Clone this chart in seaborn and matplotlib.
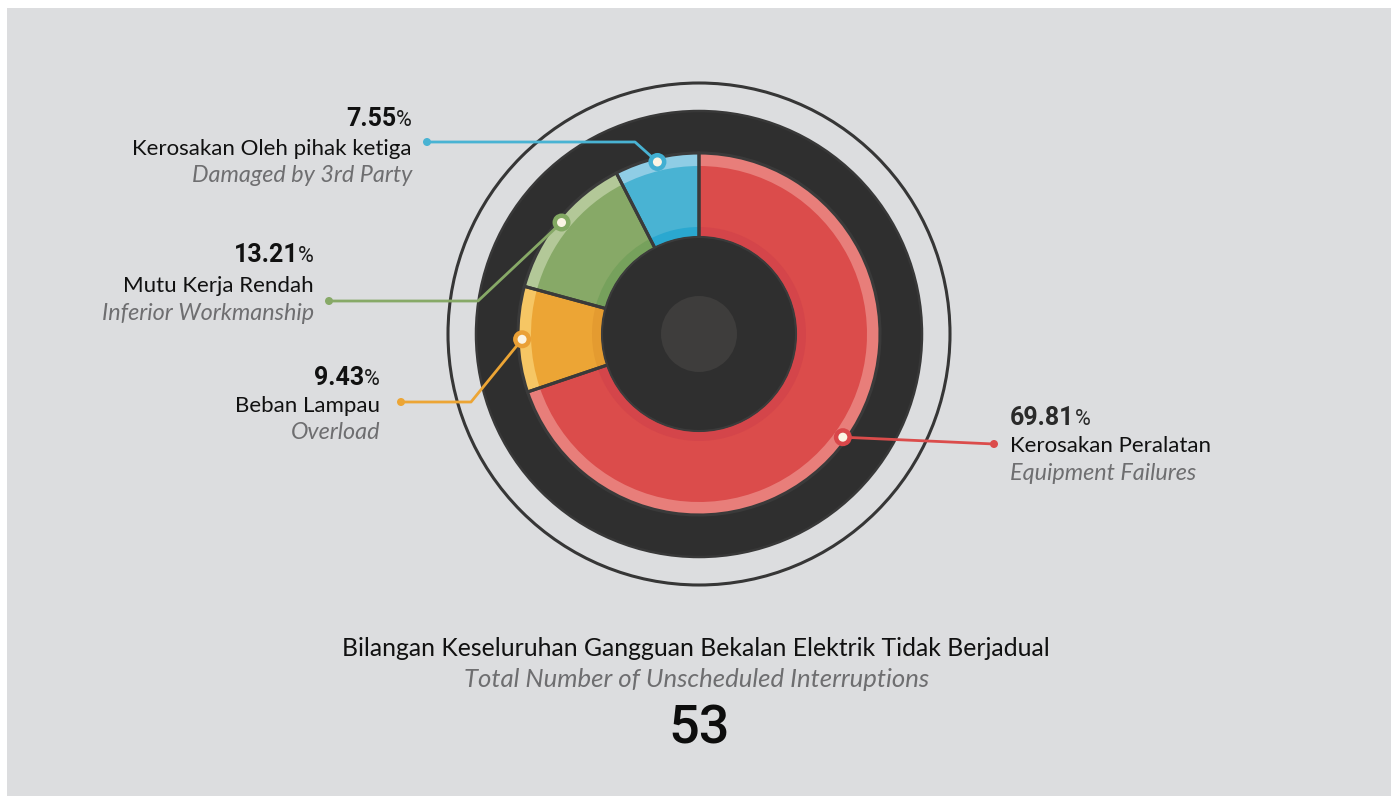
import numpy as np
import matplotlib
matplotlib.use("Agg")
import matplotlib.pyplot as plt
import seaborn as sns
from matplotlib.patches import Circle, Rectangle

# ---------------- data ----------------
categories_ms = ["Kerosakan Peralatan", "Beban Lampau", "Mutu Kerja Rendah",
                 "Kerosakan Oleh pihak ketiga"]
categories_en = ["Equipment Failures", "Overload", "Inferior Workmanship",
                 "Damaged by 3rd Party"]
shares = [69.81, 9.43, 13.21, 7.55]
pct_labels = ["69.81", "9.43", "13.21", "7.55"]
total_interruptions = 53
title_ms = "Bilangan Keseluruhan Gangguan Bekalan Elektrik Tidak Berjadual"
title_en = "Total Number of Unscheduled Interruptions"

# ---------------- style ----------------
main_colors = ["#db4c4b", "#eca535", "#87a967", "#49b3d3"]
light_colors = ["#e87e7a", "#f6c664", "#b3c898", "#8fcde5"]
deep_colors = ["#d4454a", "#e49b30", "#76a15c", "#2aa8d0"]
marker_colors = ["#d9474a", "#eaa036", "#82a862", "#41afd2"]

W, H = 1391, 796
sns.set_theme(style="white")
plt.rcParams["font.family"] = ["Lato", "DejaVu Sans"]
NARROW = ["Liberation Sans Narrow", "Roboto", "DejaVu Sans"]

fig = plt.figure(figsize=(W / 100, H / 100), dpi=100, facecolor="white")
ax = fig.add_axes([0, 0, 1, 1])


def Y(py):
    return H - py


cx, cy = 699, Y(334)

ax.add_patch(Rectangle((7, 0), W - 7, H - 8, facecolor="#dcdddf",
                       edgecolor="none", zorder=0))
# outer thin ring and dark disc
ax.add_patch(Circle((cx, cy), 251, facecolor="none", edgecolor="#363636",
                    linewidth=2.2, zorder=1))
ax.add_patch(Circle((cx, cy), 223, facecolor="#2f2f2f", edgecolor="#383838",
                    linewidth=1.8, zorder=1))

pal_main = sns.color_palette(main_colors)
pal_light = sns.color_palette(light_colors)
pal_deep = sns.color_palette(deep_colors)

common = dict(center=(cx, cy), startangle=90, counterclock=False, frame=True)
w1, _ = ax.pie(shares, radius=181, colors=pal_light,
               wedgeprops=dict(width=14, linewidth=0), **common)
w2, _ = ax.pie(shares, radius=168, colors=pal_main,
               wedgeprops=dict(width=62, linewidth=0), **common)
w3, _ = ax.pie(shares, radius=107, colors=pal_deep,
               wedgeprops=dict(width=11, linewidth=0), **common)
w4, _ = ax.pie(shares, radius=181, colors=["none"] * len(shares),
               wedgeprops=dict(width=85, linewidth=2.2, edgecolor="#3a3a3a"),
               **common)
for grp in (w1, w2, w3, w4):
    for w in grp:
        w.set_zorder(2)

ax.add_patch(Circle((cx, cy), 97, facecolor="#2f2f2f", edgecolor="#3b3b3b",
                    linewidth=1.5, zorder=3))
ax.add_patch(Circle((cx, cy), 38, facecolor="#3e3d3c", edgecolor="none",
                    zorder=3))

ax.set_xlim(0, W)
ax.set_ylim(0, H)
ax.set_aspect("equal", adjustable="box")
ax.axis("off")

# ---------------- callouts ----------------
callouts = [
    dict(end=(994, 444), elbow=None, tx=1010, ha="left", base=(425, 452, 480)),
    dict(end=(401, 402), elbow=(471, 402), tx=380, ha="right", base=(385, 412, 439)),
    dict(end=(329, 301), elbow=(478, 301), tx=314, ha="right", base=(262, 292, 320)),
    dict(end=(427, 142), elbow=(635, 142), tx=412, ha="right", base=(126, 155, 182)),
]

cum = np.cumsum([0] + shares[:-1])
mid_angles = np.deg2rad(90 - (cum + np.array(shares) / 2) * 3.6)
r_mark = 177

fig.canvas.draw()
renderer = fig.canvas.get_renderer()
inv = ax.transData.inverted()

for i, c in enumerate(callouts):
    mx = cx + r_mark * np.cos(mid_angles[i])
    my = cy + r_mark * np.sin(mid_angles[i])
    xs, ys = [mx], [my]
    if c["elbow"] is not None:
        xs.append(c["elbow"][0]); ys.append(Y(c["elbow"][1]))
    xs.append(c["end"][0]); ys.append(Y(c["end"][1]))
    ax.plot(xs, ys, color=main_colors[i], linewidth=2.0, zorder=4,
            solid_capstyle="round", solid_joinstyle="round")
    ax.add_patch(Circle((xs[-1], ys[-1]), 4, facecolor=main_colors[i],
                        edgecolor="none", zorder=4))
    ax.add_patch(Circle((mx, my), 9, facecolor=marker_colors[i],
                        edgecolor="none", zorder=5))
    ax.add_patch(Circle((mx, my), 4.5, facecolor="#fbf4e4",
                        edgecolor="none", zorder=6))

    b_pct, b_name, b_en = c["base"]
    ha = c["ha"]
    tx = c["tx"]
    if ha == "right":
        tp = ax.text(tx, Y(b_pct), "%", ha="right", va="baseline",
                     fontsize=15.5, family=NARROW, color="#1a1a1a", zorder=6)
        bb = tp.get_window_extent(renderer)
        x0 = inv.transform((bb.x0, bb.y0))[0]
        ax.text(x0, Y(b_pct), pct_labels[i], ha="right", va="baseline",
                fontsize=18, fontweight="bold", family=NARROW,
                color="#111111", zorder=6)
    else:
        tn = ax.text(tx, Y(b_pct), pct_labels[i], ha="left", va="baseline",
                     fontsize=18, fontweight="bold", family=NARROW,
                     color="#2a2a2a", zorder=6)
        bb = tn.get_window_extent(renderer)
        x1 = inv.transform((bb.x1, bb.y0))[0]
        ax.text(x1, Y(b_pct), "%", ha="left", va="baseline",
                fontsize=15.5, family=NARROW, color="#2a2a2a", zorder=6)
    ax.text(tx, Y(b_name), categories_ms[i], ha=ha, va="baseline",
            fontsize=16, color="#111111", zorder=6)
    ax.text(tx, Y(b_en), categories_en[i], ha=ha, va="baseline",
            fontsize=16.8, style="italic", color="#6e6e70", zorder=6)

# ---------------- bottom totals ----------------
ax.text(696, Y(656), title_ms, ha="center", va="baseline", fontsize=17.8,
        color="#111111")
ax.text(697, Y(687), title_en, ha="center", va="baseline", fontsize=18.5,
        style="italic", color="#6e6e70")
ax.text(699, Y(743), str(total_interruptions), ha="center", va="baseline",
        fontsize=39, fontweight="medium", family=["Roboto", "DejaVu Sans"],
        color="#0d0d0d")

fig.savefig("out.png", dpi=100, facecolor="white")
